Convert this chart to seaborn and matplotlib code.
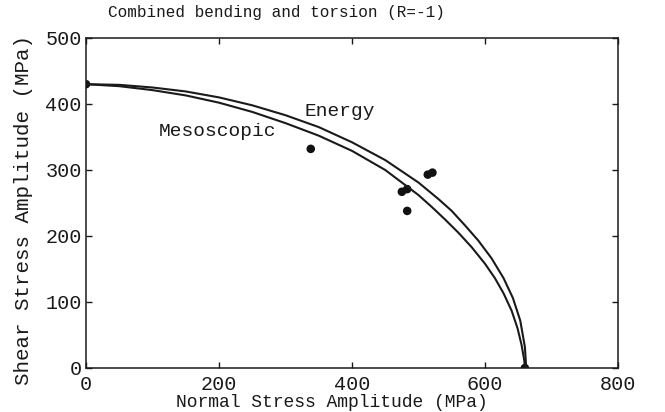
import pandas as pd
import seaborn as sns
import matplotlib.pyplot as plt

# curve readings (normal stress, shear stress) in MPa
energy_x = [0, 50, 100, 150, 200, 250, 300, 350, 400, 450, 500, 530, 550, 570, 590,
            610, 628, 642, 653, 660, 662]
energy_y = [430, 429, 425, 419, 410, 398, 383, 365, 342, 315, 281, 256, 238, 216, 193,
            166, 136, 106, 72, 32, 0]

meso_x = [0, 50, 100, 150, 200, 250, 300, 350, 400, 450, 500, 520, 540, 560, 580,
          600, 615, 628, 640, 649, 655, 659, 660]
meso_y = [430, 427, 421, 413, 402, 388, 371, 352, 329, 300, 262, 244, 225, 205, 183,
          158, 136, 113, 87, 60, 35, 12, 0]

# experimental points
exp_x = [0, 338, 475, 483, 483, 514, 521, 660]
exp_y = [430, 332, 267, 271, 238, 293, 296, 0]

curves = pd.concat([
    pd.DataFrame({'sigma': energy_x, 'tau': energy_y, 'crit': 'Energy'}),
    pd.DataFrame({'sigma': meso_x, 'tau': meso_y, 'crit': 'Mesoscopic'}),
])
points = pd.DataFrame({'sigma': exp_x, 'tau': exp_y})

sns.set_style('ticks')
plt.rcParams['font.family'] = ['Liberation Mono', 'DejaVu Sans Mono']

fig = plt.figure(figsize=(6.65, 4.12), dpi=100)
ax = fig.add_axes([0.1293, 0.1068, 0.80, 0.801])

sns.lineplot(data=curves, x='sigma', y='tau', units='crit', estimator=None,
             sort=False, color='#1a1a1a', linewidth=1.5, ax=ax, legend=False)
sns.scatterplot(data=points, x='sigma', y='tau', color='#111111', s=38,
                edgecolor='none', ax=ax, legend=False)

ax.text(329, 388, 'Energy', fontsize=14, va='center', ha='left', color='#1a1a1a')
ax.text(110, 359, 'Mesoscopic', fontsize=14, va='center', ha='left', color='#1a1a1a')

ax.set_xlim(0, 800)
ax.set_ylim(0, 500)
ax.set_xticks([0, 200, 400, 600, 800])
ax.set_yticks([0, 100, 200, 300, 400, 500])
ax.tick_params(direction='in', top=True, right=True, length=4, width=1,
               labelsize=14.5, colors='#1a1a1a')
ax.tick_params(axis='x', pad=5)
ax.tick_params(axis='y', pad=3)
for s in ax.spines.values():
    s.set_linewidth(1.1)
    s.set_color('#1a1a1a')

ax.set_xlabel('Normal Stress Amplitude (MPa)', fontsize=13, color='#1a1a1a')
ax.xaxis.set_label_coords((332 - 86) / 532, -0.08)
ax.set_ylabel('Shear Stress Amplitude (MPa)', fontsize=15, color='#1a1a1a')
ax.yaxis.set_label_coords(-0.0996, 0.479)
fig.text(276 / 665, 1 - 13 / 412, 'Combined bending and torsion (R=-1)',
         fontsize=11.5, ha='center', va='center', color='#1a1a1a')

plt.savefig('out.png', dpi=100)
